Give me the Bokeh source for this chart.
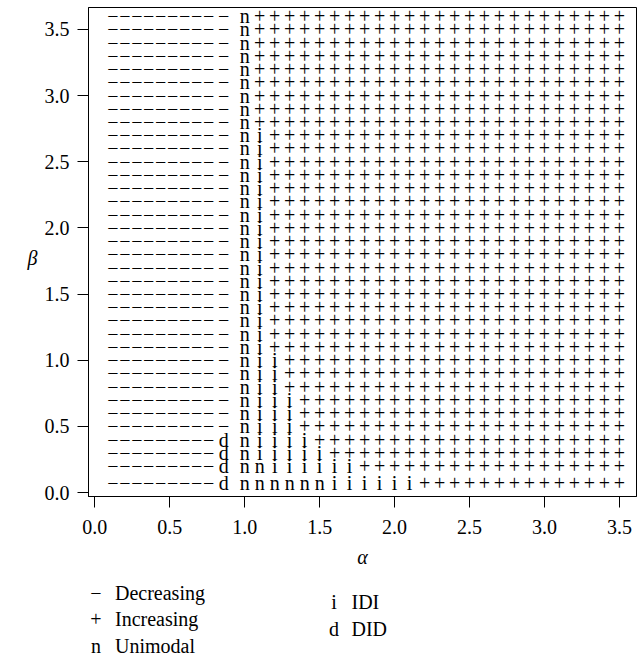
from bokeh.plotting import figure
from bokeh.layouts import column
from bokeh.models import Range1d, ColumnDataSource, FixedTicker, LinearAxis
from bokeh.core.properties import value
from bokeh.embed import file_html
from bokeh.resources import INLINE

# ---- data ----
alpha = [0.12, 0.20, 0.28, 0.36, 0.44, 0.52, 0.60, 0.68, 0.76, 0.86,
         1.0, 1.1, 1.2, 1.3, 1.4, 1.5, 1.6, 1.7, 1.8, 1.9, 2.0, 2.1, 2.2,
         2.3, 2.4, 2.5, 2.6, 2.7, 2.8, 2.9, 3.0, 3.1, 3.2, 3.3, 3.4, 3.5]
beta = [0.075, 0.2, 0.3, 0.4, 0.5, 0.6, 0.7, 0.8, 0.9, 1.0, 1.1, 1.2,
        1.3, 1.4, 1.5, 1.6, 1.7, 1.8, 1.9, 2.0, 2.1, 2.2, 2.3, 2.4, 2.5,
        2.6, 2.7, 2.8, 2.9, 3.0, 3.1, 3.2, 3.3, 3.4, 3.5, 3.6]
# shape class per (beta row, alpha column); bottom row first
shape_rows = [
    "---------dnnnnnniiiiii++++++++++++++",
    "---------dnniiiiii++++++++++++++++++",
    "---------dniiiii++++++++++++++++++++",
    "---------dniiii+++++++++++++++++++++",
    "----------niii++++++++++++++++++++++",
    "----------niii++++++++++++++++++++++",
    "----------niii++++++++++++++++++++++",
    "----------nii+++++++++++++++++++++++",
    "----------nii+++++++++++++++++++++++",
    "----------nii+++++++++++++++++++++++",
] + ["----------ni++++++++++++++++++++++++"] * 17 + \
    ["----------n+++++++++++++++++++++++++"] * 9
symbols = {"-": "\u2212", "+": "+", "n": "n", "i": "i", "d": "d"}
legend_left = [("-", "Decreasing"), ("+", "Increasing"), ("n", "Unimodal")]
legend_right = [("i", "IDI"), ("d", "DID")]
x_ticks = [0.0, 0.5, 1.0, 1.5, 2.0, 2.5, 3.0, 3.5]
x_tick_labels = ["0.0", "0.5", "1.0", "1.5", "2.0", "2.5", "3.0", "3.5"]
y_ticks = [0.0, 0.5, 1.0, 1.5, 2.0, 2.5, 3.0, 3.5]
y_tick_labels = ["0.0", "0.5", "1.0", "1.5", "2.0", "2.5", "3.0", "3.5"]
x_title = "\u03b1"
y_title = "\u03b2"

assert len(shape_rows) == len(beta)
xs, ys, ts = [], [], []
for b, row in zip(beta, shape_rows):
    assert len(row) == len(alpha)
    for a, c in zip(alpha, row):
        xs.append(a)
        ys.append(b)
        ts.append(symbols[c])
src = ColumnDataSource(dict(x=xs, y=ys, t=ts))

FONT = "Liberation Serif"

p = figure(width=640, height=580, output_backend="svg", toolbar_location=None,
           x_range=Range1d(-0.042, 3.614), y_range=Range1d(-0.03, 3.665),
           min_border_left=88, min_border_right=4, min_border_top=7,
           min_border_bottom=84)
p.background_fill_color = "white"
p.border_fill_color = "white"
p.outline_line_color = "black"
p.outline_line_width = 1
p.outline_line_alpha = 1
p.grid.visible = False

p.text(x="x", y="y", text="t", source=src, text_font=value(FONT),
       text_font_size="20px", text_align="center", text_baseline="middle",
       text_color="black")

for ax, ticks, labels in ((p.xaxis[0], x_ticks, x_tick_labels),
                          (p.yaxis[0], y_ticks, y_tick_labels)):
    ax.ticker = FixedTicker(ticks=ticks)
    ax.major_label_overrides = {t: l for t, l in zip(ticks, labels)}
    ax.minor_tick_line_color = None
    ax.major_tick_in = 0
    ax.major_tick_out = 11
    ax.major_tick_line_color = "black"
    ax.axis_line_color = "black"
    ax.major_label_text_font = FONT
    ax.major_label_text_font_size = "20px"
    ax.major_label_text_color = "black"

p.xaxis.major_label_standoff = 12
p.yaxis.major_label_standoff = 8
p.xaxis.axis_label = x_title
p.xaxis.axis_label_text_font = FONT
p.xaxis.axis_label_text_font_size = "20px"
p.xaxis.axis_label_text_font_style = "italic"
p.xaxis.axis_label_text_color = "black"
p.xaxis.axis_label_standoff = 9

# horizontal beta title, placed as the single label of an outer left axis
title_pos = 1.77
beta_axis = LinearAxis(ticker=FixedTicker(ticks=[title_pos]),
                       major_label_overrides={title_pos: y_title},
                       axis_line_color=None, major_tick_line_color=None,
                       minor_tick_line_color=None, major_tick_in=0,
                       major_tick_out=0, major_label_standoff=4,
                       major_label_text_font=FONT,
                       major_label_text_font_size="20px",
                       major_label_text_font_style="italic",
                       major_label_text_color="black")
p.add_layout(beta_axis, "left")

# ---- legend panel below (its frame is aligned with the main frame, 88..636 px) ----
lg = figure(width=640, height=81, output_backend="svg", toolbar_location=None,
            x_range=Range1d(88, 636), y_range=Range1d(81, 0),
            min_border_left=88, min_border_right=4, min_border_top=0,
            min_border_bottom=0, x_axis_location=None, y_axis_location=None)
lg.outline_line_color = None
lg.grid.visible = False
lg.background_fill_color = "white"
lg.border_fill_color = "white"

sym_x, sym_y, sym_t, lab_x, lab_y, lab_t = [], [], [], [], [], []
for k, (c, name) in enumerate(legend_left):
    yb = 12 + 26.5 * k
    sym_x.append(95.5); sym_y.append(yb); sym_t.append(symbols[c])
    lab_x.append(114.5); lab_y.append(yb); lab_t.append(name)
for k, (c, name) in enumerate(legend_right):
    yb = 21.5 + 26.5 * k
    sym_x.append(333.5); sym_y.append(yb); sym_t.append(symbols[c])
    lab_x.append(351); lab_y.append(yb); lab_t.append(name)

lg.text(x=sym_x, y=sym_y, text=sym_t, text_font=value(FONT),
        text_font_size="20px", text_align="center",
        text_baseline="alphabetic", text_color="black")
lg.text(x=lab_x, y=lab_y, text=lab_t, text_font=value(FONT),
        text_font_size="20px", text_align="left",
        text_baseline="alphabetic", text_color="black")

layout = column(p, lg, spacing=0)
open("out.html", "w").write(file_html(layout, INLINE))
